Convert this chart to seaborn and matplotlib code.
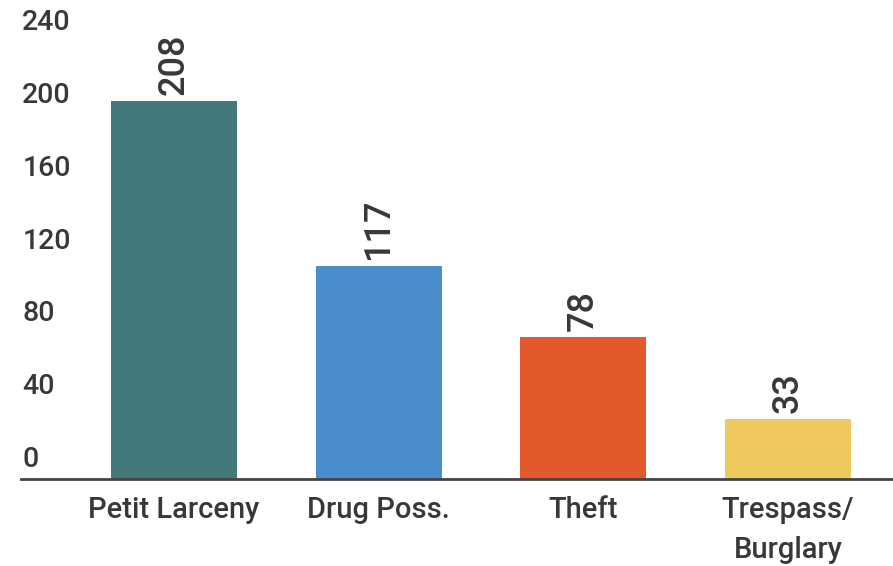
import matplotlib
matplotlib.use("Agg")
import matplotlib.pyplot as plt
import matplotlib.transforms as mtransforms
import seaborn as sns
import pandas as pd

categories = ["Petit Larceny", "Drug Poss.", "Theft", "Trespass/\nBurglary"]
values = [208, 117, 78, 33]
colors = ["#44797B", "#4A8DCB", "#E25A2C", "#EDC95E"]
yticks = [0, 40, 80, 120, 160, 200, 240]

sns.set_style("white")
plt.rcParams["font.family"] = ["Roboto", "DejaVu Sans"]
plt.rcParams["font.weight"] = "medium"

TEXT = "#383838"
df = pd.DataFrame({"category": categories, "value": values})

fig = plt.figure(figsize=(8.93, 5.66), dpi=100)
ax = fig.add_axes([21 / 893, (566 - 479) / 566, 872 / 893, 479 / 566])

sns.barplot(data=df, x="category", y="value", hue="category",
            palette=colors, width=0.616, legend=False, ax=ax,
            saturation=1, edgecolor="none")

ax.set_xlim(-0.748, 3.513)
ax.set_ylim(0, 263.5)
ax.set_xlabel("")
ax.set_ylabel("")

for s in ["top", "right", "left"]:
    ax.spines[s].set_visible(False)
ax.spines["bottom"].set_color("#444444")
ax.spines["bottom"].set_linewidth(2)

ax.set_yticks([])
ax.tick_params(axis="x", length=0, pad=12, labelsize=21, colors=TEXT)
for lab in ax.get_xticklabels():
    lab.set_linespacing(1.55)
    lab.set_fontweight("medium")

# y tick labels above their gridline positions
off = mtransforms.offset_copy(ax.get_yaxis_transform(), fig=fig, x=0, y=4.5, units="points")
for t in yticks:
    ax.text(0.0015, t, str(t), transform=off, ha="left", va="bottom",
            fontsize=20.5, color=TEXT, fontweight="medium")

# value labels
for i, v in enumerate(values):
    ax.annotate(str(v), (i, v), xytext=(0, 4.5), textcoords="offset points",
                rotation=90, ha="center", va="bottom", fontsize=26, color=TEXT,
                fontweight="medium")

fig.savefig("out.png", dpi=100)
